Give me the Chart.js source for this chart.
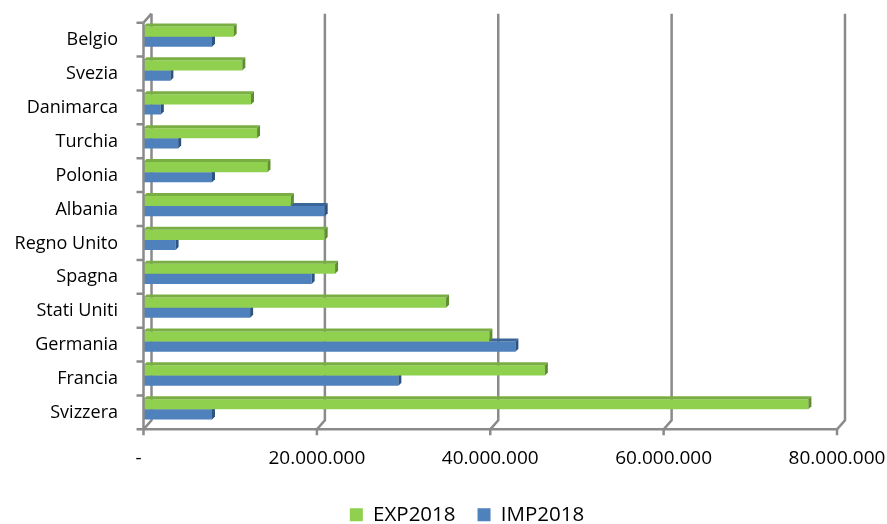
<!DOCTYPE html>
<html>
<head>
<meta charset="utf-8">
<script src="https://cdn.jsdelivr.net/npm/chart.js@4/dist/chart.umd.min.js"></script>
<style>
  html, body { margin: 0; padding: 0; background: #ffffff; }
  #wrap { width: 887px; height: 524px; position: relative; }
</style>
</head>
<body>
<div id="wrap"><canvas id="chart" width="887" height="524"></canvas></div>
<script>
// Partner countries, listed from the bottom of the chart upwards
const countries = ['Svizzera', 'Francia', 'Germania', 'Stati Uniti', 'Spagna', 'Regno Unito',
                   'Albania', 'Polonia', 'Turchia', 'Danimarca', 'Svezia', 'Belgio'];

// Exports and imports 2018 (euro)
const exp2018 = [76700000, 46300000, 39900000, 34900000, 22100000, 20900000,
                 17000000, 14300000, 13100000, 12400000, 11400000, 10400000];
const imp2018 = [7900000, 29400000, 42900000, 12300000, 19400000, 3700000,
                 20900000, 7900000, 4000000, 2000000, 3100000, 7900000];

const seriesNames = ['EXP2018', 'IMP2018'];
const valueTicks = [0, 20000000, 40000000, 60000000, 80000000];

const FONT = "'Open Sans', 'DejaVu Sans', sans-serif";
const GREEN = { front: '#8fd04f', top: '#79ae42', side: '#5f8e2f' };
const BLUE  = { front: '#4f81bd', top: '#3a6598', side: '#2c5382' };
const FRAME = '#8a8a8a';
const DEPTH_X = 8, DEPTH_Y = 9;   // offset of the back wall
const BAR_D = 3;                  // bar depth
const SHIFT = 3;                  // front frame sits slightly below the bar bands

function fmt(v) {
  if (v === 0) return '-  ';
  return String(Math.round(v)).replace(/\B(?=(\d{3})+(?!\d))/g, '.');
}

// Back wall grid lines and left wall, bent down to the front floor edge
const wallPlugin = {
  id: 'wall',
  afterLayout(chart) {
    // centre the legend under the plot and lower it towards the bottom edge
    const lg = chart.legend;
    if (!lg) return;
    const dx = 48.5, dy = 482.5 - lg.top;
    lg.left += dx; lg.right += dx;
    lg.top += dy; lg.bottom += dy;
  },
  beforeDatasetsDraw(chart) {
    const { ctx, chartArea, scales } = chart;
    const xs = scales.x;
    const topF = chartArea.top + SHIFT, botF = chartArea.bottom + SHIFT;
    ctx.save();
    ctx.strokeStyle = FRAME;
    ctx.lineWidth = 2.5;
    ctx.lineJoin = 'miter';
    valueTicks.forEach((v) => {
      const xf = xs.getPixelForValue(v);
      ctx.beginPath();
      ctx.moveTo(xf + DEPTH_X, topF - DEPTH_Y);
      ctx.lineTo(xf + DEPTH_X, botF - DEPTH_Y);
      ctx.lineTo(xf, botF);
      ctx.stroke();
    });
    // top edge of the left wall
    const xl = xs.getPixelForValue(0);
    ctx.beginPath();
    ctx.moveTo(xl, topF);
    ctx.lineTo(xl + DEPTH_X, topF - DEPTH_Y);
    ctx.stroke();
    ctx.restore();
  },
  afterDraw(chart) {
    const { ctx, chartArea, scales } = chart;
    const xs = scales.x, ys = scales.y;
    const topF = chartArea.top + SHIFT, botF = chartArea.bottom + SHIFT;
    const xl = xs.getPixelForValue(0), xr = xs.getPixelForValue(valueTicks[valueTicks.length - 1]);
    ctx.save();
    ctx.strokeStyle = FRAME;
    ctx.lineWidth = 2.5;
    ctx.lineCap = 'butt';
    // front vertical axis with category boundary ticks
    ctx.beginPath();
    ctx.moveTo(xl, topF);
    ctx.lineTo(xl, botF);
    const bounds = [chartArea.top, chartArea.bottom];
    for (let i = 0; i < countries.length - 1; i++) {
      bounds.push((ys.getPixelForValue(i) + ys.getPixelForValue(i + 1)) / 2);
    }
    bounds.forEach((b) => {
      ctx.moveTo(xl, b + SHIFT);
      ctx.lineTo(xl - 7, b + SHIFT);
    });
    ctx.stroke();
    // front floor edge with value ticks
    ctx.beginPath();
    ctx.moveTo(xl - 1, botF);
    ctx.lineTo(xr, botF);
    valueTicks.forEach((v) => {
      const xf = xs.getPixelForValue(v);
      ctx.moveTo(xf, botF);
      ctx.lineTo(xf, botF + 6);
    });
    ctx.stroke();
    ctx.restore();
  }
};

// Top and end faces that give every bar its depth
const depthPlugin = {
  id: 'depth',
  afterDatasetDraw(chart, args) {
    const { ctx } = chart;
    const pal = args.index === 0 ? GREEN : BLUE;
    const d = BAR_D;
    ctx.save();
    args.meta.data.forEach((bar) => {
      const p = bar.getProps(['x', 'y', 'base', 'height'], true);
      const top = p.y - p.height / 2, bot = p.y + p.height / 2;
      ctx.fillStyle = pal.top;
      ctx.beginPath();
      ctx.moveTo(p.base, top);
      ctx.lineTo(p.x, top);
      ctx.lineTo(p.x + d, top - d);
      ctx.lineTo(p.base + d, top - d);
      ctx.closePath();
      ctx.fill();
      ctx.fillStyle = pal.side;
      ctx.beginPath();
      ctx.moveTo(p.x, top);
      ctx.lineTo(p.x + d, top - d);
      ctx.lineTo(p.x + d, bot - d);
      ctx.lineTo(p.x, bot);
      ctx.closePath();
      ctx.fill();
    });
    ctx.restore();
  }
};

new Chart(document.getElementById('chart'), {
  type: 'bar',
  data: {
    labels: countries,
    datasets: [
      { label: seriesNames[0], data: exp2018, backgroundColor: GREEN.front, borderWidth: 0,
        categoryPercentage: 0.6, barPercentage: 1.0 },
      { label: seriesNames[1], data: imp2018, backgroundColor: BLUE.front, borderWidth: 0,
        categoryPercentage: 0.6, barPercentage: 1.0 }
    ]
  },
  options: {
    indexAxis: 'y',
    responsive: false,
    animation: false,
    layout: { padding: { left: 0, right: 50, top: 19.7, bottom: 0 } },
    scales: {
      x: {
        min: 0, max: 80000000,
        afterBuildTicks(scale) { scale.ticks = valueTicks.map((v) => ({ value: v })); },
        grid: { display: false },
        border: { display: false },
        ticks: { padding: 13, color: '#000', font: { family: FONT, size: 19 },
                 callback: (v) => fmt(v), maxRotation: 0, autoSkip: false },
        afterFit(scale) {
          scale.height = 45.2;
          scale.paddingLeft = 0; scale.paddingRight = 0;
        }
      },
      y: {
        reverse: true,
        grid: { display: false },
        border: { display: false },
        ticks: { padding: 17.5, labelOffset: 3.5, color: '#000', font: { family: FONT, size: 18 } },
        afterFit(scale) {
          scale.width = 143.5;
          scale.paddingTop = 0; scale.paddingBottom = 0;
        }
      }
    },
    plugins: {
      legend: {
        position: 'bottom',
        labels: { boxWidth: 13, boxHeight: 13, padding: 22, color: '#000',
                  font: { family: FONT, size: 20.5 } }
      },
      tooltip: { enabled: false }
    }
  },
  plugins: [wallPlugin, depthPlugin]
});
</script>
</body>
</html>
